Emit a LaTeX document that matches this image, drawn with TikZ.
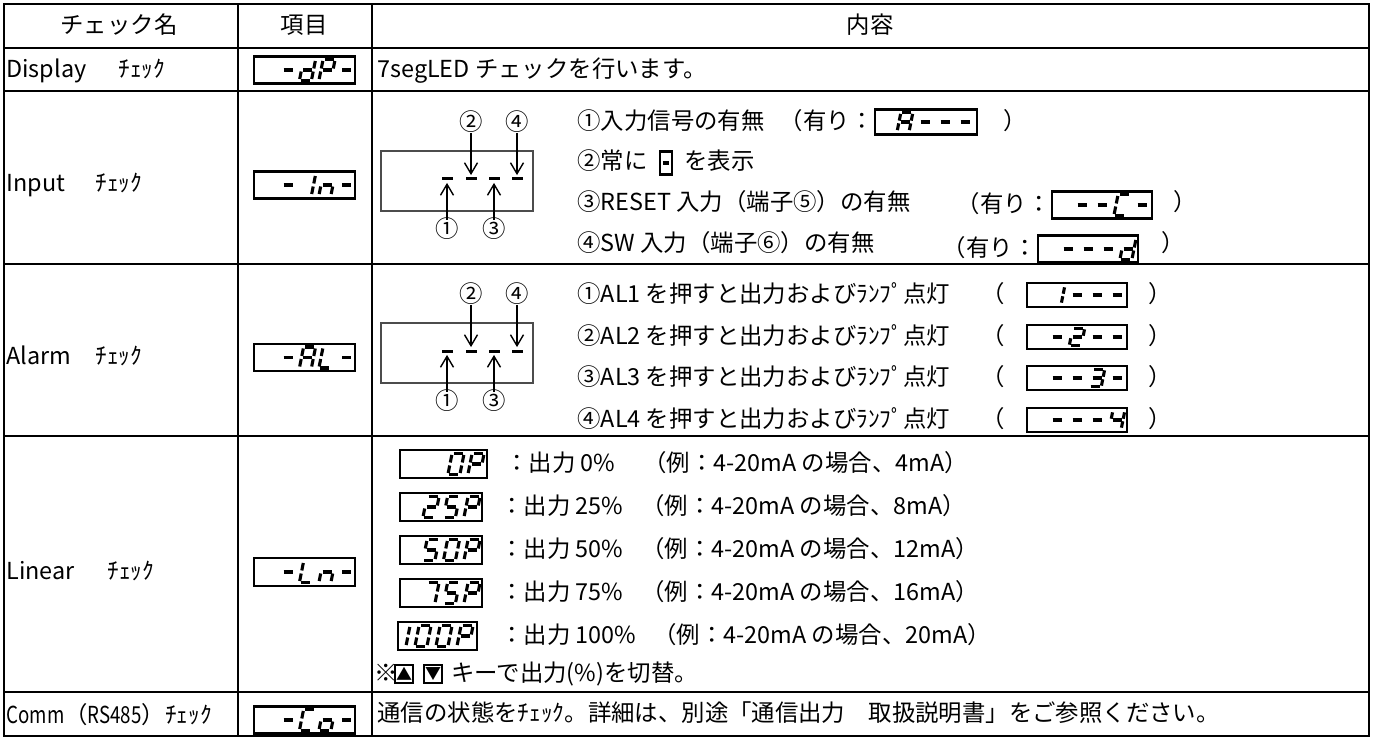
\documentclass[tikz,border=0pt]{standalone}
\usepackage{fontspec}
\setmainfont{Noto Sans CJK JP}
\newfontfamily\hw[FakeStretch=0.8]{Noto Sans CJK JP}
\usetikzlibrary{arrows.meta}

% seven segment pieces (local units = pixels, origin at left middle)
\newcommand\sevsega{\draw[segline] (1.5,-10.5) -- (10.5,-10.5);}
\newcommand\sevsegb{\draw[segline] (12,-9) -- (12,-1.5);}
\newcommand\sevsegc{\draw[segline] (12,1.5) -- (12,9);}
\newcommand\sevsegd{\draw[segline] (1.5,10.5) -- (10.5,10.5);}
\newcommand\sevsege{\draw[segline] (0,1.5) -- (0,9);}
\newcommand\sevsegf{\draw[segline] (0,-9) -- (0,-1.5);}
\newcommand\sevsegg{\draw[segline] (1.5,0) -- (10.5,0);}
\newcommand\segdig[4]{\begin{scope}[shift={(#2,#3)},xslant=0.2,#1]
  \foreach \s in #4 {\csname sevseg\s\endcsname}\end{scope}}
% row of digits: [opts]{first x}{y}{pitch}{{segs},{segs},...}
\newcommand\segrow[5][]{\foreach \dg [count=\k from 0] in {#5} {\segdig{#1}{#2+\k*#4}{#3}{\dg}}}

\tikzset{
  rule/.style={line width=1.35pt},
  segline/.style={line width=1.55pt,line cap=butt},
  segbox/.style={draw,line width=1.2pt,inner sep=0pt},
  lbl/.style={anchor=west,inner sep=0pt,text height=0.88em,text depth=0.12em},
  num/.style={inner sep=0pt,text height=0.88em,text depth=0.12em},
  frame/.style={draw=black!70,line width=0.6pt,inner sep=0pt},
  bar/.style={fill=black,inner sep=0pt,minimum width=5.5pt,minimum height=1.5pt},
  pointer/.style={line width=0.7pt,-{Straight Barb[length=5.5pt,width=6.5pt]},shorten >=1pt},
  keybox/.style={draw,line width=0.6pt,inner sep=0pt,minimum size=9pt,font=\fontsize{8}{8}\selectfont}
}

\begin{document}
\begin{tikzpicture}[x=0.5pt,y=-0.5pt,font=\fontsize{11.7}{14}\selectfont]
  \useasboundingbox (0,0) rectangle (1378,738);
  % table
  \draw[rule] (4,4) rectangle (1369,736);
  \foreach \y in {48,91,264,436,692}
    \draw[rule] (4,\y) -- (1369,\y);
  \draw[rule] (238,4) -- (238,736);
  \draw[rule] (372,4) -- (372,736);

  % header
  \node[num] (hname) at (119,26) {チェック名};
  \node[num] (hitem) at (304,26) {項目};
  \node[num] (hbody) at (870,26) {内容};

  % first column
  \node[lbl] (ndisp) at (6,70) {Display};
  \node[lbl] (cdisp) at (118,70) {ﾁｪｯｸ};
  \node[lbl] (ninp) at (6,184) {Input};
  \node[lbl] (cinp) at (95,184) {ﾁｪｯｸ};
  \node[lbl] (nalm) at (6,357) {Alarm};
  \node[lbl] (calm) at (95,357) {ﾁｪｯｸ};
  \node[lbl] (nlin) at (6,572) {Linear};
  \node[lbl] (clin) at (107,572) {ﾁｪｯｸ};
  \node[lbl] (ncom) at (6,716) {{\hw Comm}（{\hw RS485}）ﾁｪｯｸ};

  % second column displays
  \node[segbox,minimum width=50.5pt,minimum height=13.5pt] (dPbox) at (304.5,70) {};
  \segrow{282}{70}{19.5}{{g},{b,c,d,e,g},{a,b,e,f,g},{g}}
  \node[segbox,minimum width=50.5pt,minimum height=13.5pt] (Inbox) at (304.5,185) {};
  \segrow{282}{185}{19.5}{{g},{b,c},{c,e,g},{g}}
  \node[segbox,minimum width=50.5pt,minimum height=13.5pt] (ALbox) at (304.5,357.5) {};
  \segrow{282}{357.5}{19.5}{{g},{a,b,c,e,f,g},{d,e,f},{g}}
  \node[segbox,minimum width=50.5pt,minimum height=14pt] (Lnbox) at (304.5,572) {};
  \segrow{282}{572}{19.5}{{g},{d,e,f},{c,e,g},{g}}
  \node[segbox,minimum width=50.5pt,minimum height=13.5pt] (Cobox) at (304.5,720) {};
  \segrow{282}{720}{19.5}{{g},{a,d,e,f},{c,d,e,g},{g}}

  % display row
  \node[lbl] (tdisp) at (377,70) {7segLED チェックを行います。};

  % input row: front panel sketch
  \node[frame,minimum width=76pt,minimum height=30pt] (inframe) at (457,181) {};
  \node[bar] (in1) at (447,179) {};
  \node[bar] (in2) at (471,179) {};
  \node[bar] (in3) at (494,179) {};
  \node[bar] (in4) at (517,179) {};
  \node[num] (inn2) at (471,123) {②};
  \node[num] (inn4) at (517,123) {④};
  \node[num] (inn1) at (447,230) {①};
  \node[num] (inn3) at (494,230) {③};
  \draw[pointer] (inn2) -- (in2);
  \draw[pointer] (inn4) -- (in4);
  \draw[pointer] (inn1) -- (in1);
  \draw[pointer] (inn3) -- (in3);

  % input row: texts
  \node[lbl] (ti1) at (577,122) {①入力信号の有無};
  \node[segbox,minimum width=51pt,minimum height=12.5pt] (Abox) at (926,122) {};
  \segrow[yscale=0.9]{899}{122}{20}{{a,b,c,e,f,g},{g},{g},{g}}
  \node[lbl,anchor=east] (ti1a) at (Abox.west) {（有り：};
  \node[lbl] (ti1b) at (1003,122) {）};
  \node[lbl] (ti2) at (577,162) {②常に};
  \node[segbox,minimum width=6pt,minimum height=11.5pt] (dashkey) at (666,163) {};
  \draw[segline] ([xshift=-1.6pt]dashkey.center) -- ([xshift=1.6pt]dashkey.center);
  \node[lbl] (ti2a) at (684,162) {を表示};
  \node[lbl] (ti3) at (577,203) {③RESET 入力（端子⑤）の有無};
  \node[segbox,minimum width=50pt,minimum height=13.5pt] (Cbox) at (1102,205) {};
  \segrow{1076}{205}{20}{{g},{g},{a,d,e,f},{g}}
  \node[lbl,anchor=east] (ti3a) at (Cbox.west) {（有り：};
  \node[lbl] (ti3b) at (1173,203) {）};
  \node[lbl] (ti4) at (577,244) {④SW 入力（端子⑥）の有無};
  \node[segbox,minimum width=50pt,minimum height=13.5pt] (dbox) at (1088,249) {};
  \segrow{1062}{249}{20}{{g},{g},{g},{b,c,d,e,g}}
  \node[lbl,anchor=east] (ti4a) at (dbox.west) {（有り：};
  \node[lbl] (ti4b) at (1161,244) {）};

  % alarm row: front panel sketch
  \node[frame,minimum width=76pt,minimum height=30pt] (alframe) at (457,353) {};
  \node[bar] (al1) at (447,351) {};
  \node[bar] (al2) at (471,351) {};
  \node[bar] (al3) at (494,351) {};
  \node[bar] (al4) at (517,351) {};
  \node[num] (aln2) at (471,295) {②};
  \node[num] (aln4) at (517,295) {④};
  \node[num] (aln1) at (447,402) {①};
  \node[num] (aln3) at (494,402) {③};
  \draw[pointer] (aln2) -- (al2);
  \draw[pointer] (aln4) -- (al4);
  \draw[pointer] (aln1) -- (al1);
  \draw[pointer] (aln3) -- (al3);

  % alarm row: texts
  \foreach \n/\y [count=\i] in {①/295,②/337,③/378,④/420} {
    \node[lbl] (ta\i) at (577,\y) {\n AL\i{} を押すと出力およびﾗﾝﾌﾟ点灯};
    \node[lbl] (tao\i) at (981,\y) {（};
    \node[segbox,minimum width=50pt,minimum height=12pt] (albox\i) at (1077,\y) {};
    \node[lbl] (tac\i) at (1148,\y) {）};
  }
  \segrow[yscale=0.85]{1051}{295}{20}{{b,c},{g},{g},{g}}
  \segrow[yscale=0.85]{1051}{337}{20}{{g},{a,b,d,e,g},{g},{g}}
  \segrow[yscale=0.85]{1051}{378}{20}{{g},{g},{a,b,c,d,g},{g}}
  \segrow[yscale=0.85]{1051}{420}{20}{{g},{g},{g},{b,c,f,g}}

  % linear row
  \node[segbox,minimum width=43.5pt,minimum height=14pt] (P0box) at (443.5,464) {};
  \segrow{450}{464}{20}{{a,b,c,d,e,f},{a,b,e,f,g}}
  \node[lbl] (tl0) at (505,464) {：出力 0\%};
  \node[lbl] (el0) at (643,464) {（例：4-20mA の場合、4mA）};
  \node[segbox,minimum width=41pt,minimum height=14pt] (P25box) at (441,507) {};
  \segrow{425}{507}{20.5}{{a,b,d,e,g},{a,c,d,f,g},{a,b,e,f,g}}
  \node[lbl] (tl25) at (500,507) {：出力 25\%};
  \node[lbl] (el25) at (641,507) {（例：4-20mA の場合、8mA）};
  \node[segbox,minimum width=41pt,minimum height=14pt] (P50box) at (441,550) {};
  \segrow{425}{550}{20.5}{{a,c,d,f,g},{a,b,c,d,e,f},{a,b,e,f,g}}
  \node[lbl] (tl50) at (500,550) {：出力 50\%};
  \node[lbl] (el50) at (641,550) {（例：4-20mA の場合、12mA）};
  \node[segbox,minimum width=41pt,minimum height=14pt] (P75box) at (441,593) {};
  \segrow{425}{593}{20.5}{{a,b,c},{a,c,d,f,g},{a,b,e,f,g}}
  \node[lbl] (tl75) at (500,593) {：出力 75\%};
  \node[lbl] (el75) at (641,593) {（例：4-20mA の場合、16mA）};
  \node[segbox,minimum width=39.5pt,minimum height=14pt] (P100box) at (437.5,636) {};
  \segrow{396}{636}{21}{{b,c},{a,b,c,d,e,f},{a,b,c,d,e,f},{a,b,e,f,g}}
  \node[lbl] (tl100) at (500,636) {：出力 100\%};
  \node[lbl] (el100) at (653,636) {（例：4-20mA の場合、20mA）};
  \node[lbl] (note) at (374,674) {※};
  \node[keybox] (upkey) at (404,674) {▲};
  \node[keybox] (downkey) at (433,674) {▼};
  \node[lbl] (notetext) at (451,674) {キーで出力(\%)を切替。};

  % comm row
  \node[lbl] (tcom) at (377,714) {通信の状態をﾁｪｯｸ。詳細は、別途「通信出力　取扱説明書」をご参照ください。};
\end{tikzpicture}
\end{document}
